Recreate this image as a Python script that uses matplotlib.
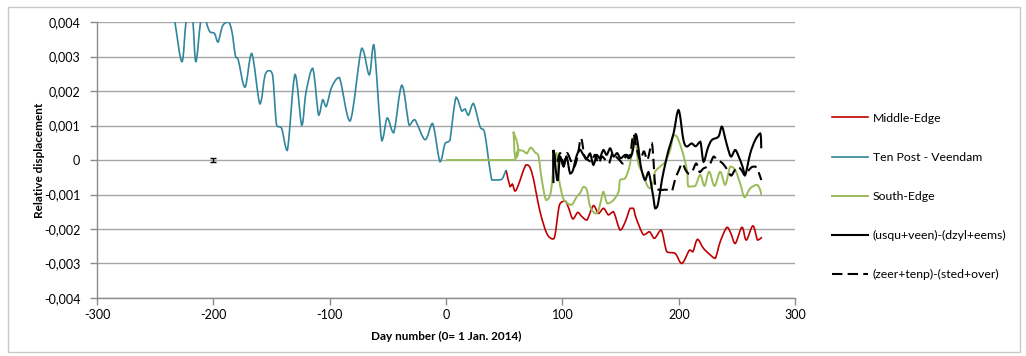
import matplotlib
matplotlib.use('Agg')
import matplotlib.pyplot as plt
from matplotlib.ticker import FuncFormatter, MultipleLocator
from matplotlib.patches import Rectangle, PathPatch
from matplotlib.path import Path
from matplotlib.lines import Line2D

plt.rcParams['font.family'] = ['Lato', 'DejaVu Sans']
plt.rcParams['axes.unicode_minus'] = False

# Ten Post - Veendam (teal)
teal_day = [-236, -233, -227, -223.5, -220, -217.5, -215, -211, -208, -206, -203, -199, -196, -192, -187, -184,
            -181, -178.6, -172.8, -167, -160, -155.6, -152, -149, -145.6, -141.3, -136.4, -129.8, -124, -120.4,
            -114.6, -109.5, -106, -103, -98.3, -91.7, -82.5, -72.5, -66, -62, -55.3, -50.5, -45, -38, -31.7,
            -26.9, -18, -11.6, -5.2, -0.9, 2, 3.4, 8.6, 13.5, 16.3, 19.2, 23.5, 29.2, 33, 39.3, 43.6, 47.9, 51.6]
teal_val = [4.6, 4.0, 2.85, 4.0, 4.5, 4.0, 2.85, 4.0, 4.4, 4.0, 3.72, 3.67, 3.42, 3.89, 4.0, 3.72,
            3.02, 2.91, 2.11, 3.09, 1.63, 2.46, 2.59, 2.46, 1.01, 0.92, 0.28, 2.48, 1.01, 1.95,
            2.66, 1.3, 1.75, 1.55, 2.11, 2.39, 1.13, 3.24, 2.47, 3.35, 0.56, 1.22, 0.79, 2.17, 1.01,
            1.17, 0.59, 1.06, -0.05, 0.48, 0.53, 0.58, 1.82, 1.42, 1.48, 1.3, 1.64, 0.97, 0.82, -0.58, -0.58, -0.56, -0.29]

# Middle-Edge (red)
red_day = [51.6, 55, 57, 59.3, 62.2, 68.8, 73.7, 80.8, 86.6, 91.7, 93.7, 97.5, 102.3, 105.2, 109, 113.2,
           116.7, 121, 126.7, 131, 135.3, 139.6, 143.9, 149.6, 154, 158.2, 161, 163.4, 169.7, 174.8, 179.1,
           184.9, 189.8, 196.9, 202.6, 209.2, 212.1, 216.1, 221.2, 227, 231.3, 235.6, 241.4, 244.8, 248.5,
           254.3, 258, 263.7, 267.7, 271.5]
red_val = [-0.29, -0.77, -0.7, -0.9, -0.72, -0.14, -0.36, -1.5, -2.13, -2.29, -2.17, -1.3, -1.19, -1.38, -1.71, -1.52,
           -1.64, -1.74, -1.32, -1.55, -1.4, -1.59, -1.5, -2.03, -1.79, -1.4, -1.4, -1.69, -2.17, -2.08, -2.27,
           -2.03, -2.66, -2.71, -3.0, -2.61, -2.66, -2.3, -2.56, -2.75, -2.85, -2.37, -1.95, -2.13, -2.42,
           -1.95, -2.32, -1.91, -2.32, -2.24]

# South-Edge (green)
green_day = [0, 57.9, 57.9, 59.3, 62.2, 66.5, 69.4, 72.8, 76.5, 79.4, 82.3, 86, 90, 92.9, 95, 97.2, 100.6,
             104, 108, 112.4, 115.2, 118, 121, 123.8, 128.1, 130.7, 133.9, 135.3, 138.7, 143.9, 148.2, 149.6,
             153.9, 158.2, 161, 163.4, 165.3, 169.6, 172.6, 175.4, 178.2, 179.7, 184, 188.3, 192.6, 195.4,
             198.4, 202.7, 207, 208.3, 214.1, 218.4, 222.1, 226.1, 230.7, 235.6, 239.9, 244.2, 248.5, 252.8,
             256.5, 261.4, 267.2, 270, 270.9]
green_val = [0, 0, 0.82, 0.1, 0.29, 0.26, 0.19, 0.36, 0.22, 0.12, -0.58, -1.16, -0.93, 0, 0.2, -0.58, -1.1,
             -1.25, -1.3, -1.06, -0.96, -0.78, -0.87, -1.35, -1.55, -1.5, -1.06, -0.92, -1.26, -1.16, -0.92, -0.58,
             -0.53, -0.1, 0.64, 0.43, -0.1, -0.43, -0.72, -0.82, -0.63, -0.34, -0.19, -0.05, 0.29, 0.72,
             0.68, 0.29, -0.29, -0.77, -0.75, -0.43, -0.75, -0.34, -0.75, -0.34, -0.72, -0.19, -0.29, -0.68,
             -1.08, -0.82, -0.72, -0.87, -1.01]

# (usqu+veen)-(dzyl+eems) (solid black)
solid_day = [92.3, 92.3, 95.7, 98, 101, 103.5, 106.6, 109, 112, 115, 118, 121, 123.8, 126.6, 129.5, 132,
             135.2, 138, 141, 144, 147, 150, 153.9, 157, 160, 163, 165, 167.4, 171, 174, 177.5, 179.7,
             182, 185.5, 188.5, 191.2, 195.5, 199.8, 204, 207, 211, 214.5, 218.5, 221.3, 225, 228.4, 234.1,
             237, 239.9, 242.5, 245, 248.5, 251.5, 254.8, 257.1, 261.4, 265.7, 270, 270.9]
solid_val = [-0.67, 0.29, -0.6, 0.1, -0.19, 0.1, -0.39, -0.3, 0.1, 0.3, 0.15, 0.05, 0.19, -0.14, 0.145, 0.05,
             0.29, 0.15, 0.34, 0.1, 0.2, 0.05, 0.145, 0.05, 0.2, 0.75, 0.43, -0.19, -0.58, -0.35, -0.95, -1.4,
             -1.3, -0.58, -0.1, 0.29, 0.77, 1.45, 0.58, 0.39, 0.48, 0.4, 0.53, -0.05, 0.35, 0.58, 0.68,
             0.97, 0.63, 0.3, 0.1, 0.29, 0.1, -0.19, -0.43, 0.19, 0.58, 0.77, 0.34]

# (zeer+tenp)-(sted+over) (dashed black)
dash_day = [92.3, 95, 98, 101, 104, 107, 110, 113, 116, 119, 122, 125, 128, 131, 134, 137, 140, 143, 146,
            149, 152, 155, 158, 161, 164, 167, 170, 173, 176.9, 179.7, 182, 185, 188, 191, 194, 197, 200,
            203, 206, 209, 212, 215, 218, 221, 224, 227, 230, 233, 236, 239, 242, 245, 248, 251, 254, 257,
            260, 263, 265.7, 268, 270.9]
dash_val = [0.29, -0.1, 0.2, -0.1, 0.2, 0.0, -0.2, 0.1, 0.63, 0.1, 0.0, -0.05, 0.15, -0.1, 0.1, 0.0, -0.1,
            0.2, 0.1, 0.0, -0.1, 0.15, 0.1, 0.75, 0.3, 0.0, 0.25, 0.0, 0.48, -0.72, -0.85, -0.87, -0.86,
            -0.87, -0.9, -0.55, -0.3, -0.1, -0.3, -0.4, -0.3, -0.1, -0.35, -0.25, -0.2, -0.1, 0.1, 0.0,
            -0.05, -0.15, -0.3, -0.45, -0.3, -0.2, -0.3, -0.45, -0.3, -0.2, -0.19, -0.3, -0.58]

# single point with error bar
ref_day = [-200]
ref_val = [0.0]
ref_err = [0.06]

labels = ['Middle-Edge', 'Ten Post - Veendam', 'South-Edge',
          '(usqu+veen)-(dzyl+eems)', '(zeer+tenp)-(sted+over)']


def scale(vals):
    return [v * 1e-3 for v in vals]


def clamp(v, a, b):
    return max(min(a, b), min(max(a, b), v))


def smooth_line(ax, xs, ys, **kw):
    # Excel-style smoothed line: Bezier curve through every point, no overshoot past neighbours
    pts = list(zip(xs, ys))
    verts = [pts[0]]
    codes = [Path.MOVETO]
    n = len(pts)
    for i in range(n - 1):
        p0 = pts[i - 1] if i > 0 else pts[i]
        p1 = pts[i]
        p2 = pts[i + 1]
        p3 = pts[i + 2] if i + 2 < n else pts[i + 1]
        c1 = (p1[0] + (p2[0] - p0[0]) / 6, clamp(p1[1] + (p2[1] - p0[1]) / 6, p1[1], p2[1]))
        c2 = (p2[0] - (p3[0] - p1[0]) / 6, clamp(p2[1] - (p3[1] - p1[1]) / 6, p1[1], p2[1]))
        verts += [c1, c2, p2]
        codes += [Path.CURVE4] * 3
    patch = PathPatch(Path(verts, codes), fill=False, **kw)
    ax.add_patch(patch)
    return patch


fig = plt.figure(figsize=(10.26, 3.56), dpi=100)
fig.patches.append(Rectangle((0.008, 0.012), 0.986, 0.968, transform=fig.transFigure,
                             fill=False, edgecolor='#c8c8c8', linewidth=1.0))
ax = fig.add_axes([0.0945, 0.163, 0.6805, 0.775])

series = [
    (red_day, red_val, dict(edgecolor='#C00000', lw=1.2)),
    (teal_day, teal_val, dict(edgecolor='#31859C', lw=1.2)),
    (green_day, green_val, dict(edgecolor='#9BBB59', lw=1.4)),
    (solid_day, solid_val, dict(edgecolor='black', lw=1.5)),
    (dash_day, dash_val, dict(edgecolor='black', lw=1.5, linestyle=(0, (5, 2.5)))),
]
handles = []
for (xs, ys, kw), lab in zip(series, labels):
    smooth_line(ax, xs, scale(ys), **kw)
    handles.append(Line2D([], [], color=kw['edgecolor'], lw=kw['lw'],
                          linestyle=kw.get('linestyle', '-'), label=lab))

ax.errorbar(ref_day, scale(ref_val), yerr=scale(ref_err), fmt='none', ecolor='black',
            elinewidth=1.0, capsize=2, capthick=1.0)

ax.set_xlim(-300, 300)
ax.set_ylim(-0.004, 0.004)
ax.xaxis.set_major_locator(MultipleLocator(100))
ax.yaxis.set_major_locator(MultipleLocator(0.001))


def fmt_y(v, pos):
    if abs(v) < 1e-9:
        return '0'
    return f'{v:.3f}'.replace('.', ',')


ax.yaxis.set_major_formatter(FuncFormatter(fmt_y))
ax.grid(axis='y', color='#a6a6a6', linewidth=1.0)
ax.set_axisbelow(True)
for s in ['top', 'right']:
    ax.spines[s].set_visible(False)
for s in ['left', 'bottom']:
    ax.spines[s].set_color('#8c8c8c')
    ax.spines[s].set_linewidth(1.0)
ax.tick_params(axis='both', colors='#8c8c8c', labelcolor='black', labelsize=9, length=5, width=1.0)
ax.tick_params(axis='y', pad=7)
ax.tick_params(axis='x', pad=3)

ax.set_xlabel('Day number (0= 1 Jan. 2014)', fontsize=8.5, fontweight='bold')
ax.set_ylabel('Relative displacement', fontsize=8.5, fontweight='bold')
ax.xaxis.set_label_coords(0.5, -0.12)
ax.yaxis.set_label_coords(-0.0745, 0.5)

fig.legend(handles=handles, loc='center left',
           bbox_to_anchor=(0.8, 0.448), frameon=False, fontsize=8.8,
           labelspacing=2.3, handlelength=3.0, handletextpad=0.35)

fig.savefig('out.png', dpi=100)
